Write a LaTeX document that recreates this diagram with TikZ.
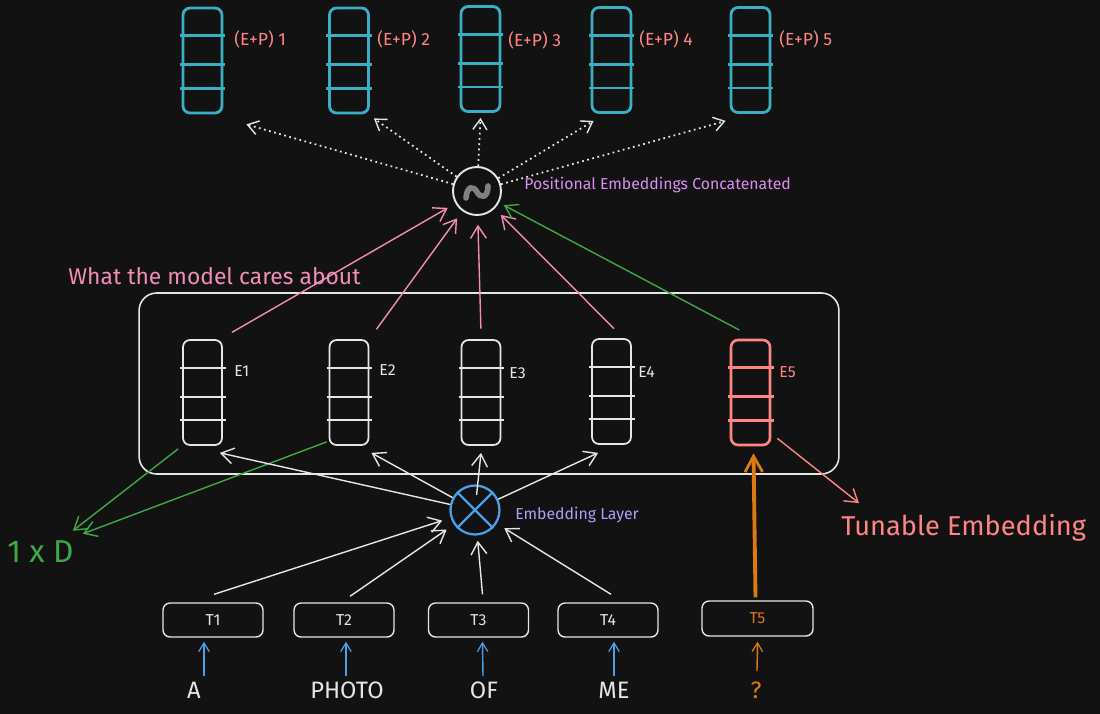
\documentclass[tikz,border=0pt]{standalone}
\usepackage{fontspec}
\setmainfont{Fira Sans}
\usetikzlibrary{arrows.meta,calc,positioning}
\definecolor{bgdark}{HTML}{121212}
\definecolor{vcyan}{HTML}{3AAFC4}
\definecolor{salmon}{HTML}{FF8585}
\definecolor{pinkish}{HTML}{F28DB6}
\definecolor{grn}{HTML}{3FA844}
\definecolor{violet}{HTML}{DA8EF0}
\definecolor{lavender}{HTML}{B49CF8}
\definecolor{skyblue}{HTML}{4A9FE6}
\definecolor{orng}{HTML}{DC7A12}
\definecolor{offwhite}{HTML}{E6E6E6}

\tikzset{
  barb/.tip={Straight Barb[length=7pt,width=9pt,line width=0.8pt]},
  pvec/.style={draw=vcyan, line width=1.6pt, rounded corners=4pt, minimum width=0.78cm, minimum height=2.1cm, inner sep=0pt},
  evec/.style={draw=offwhite, line width=1pt, rounded corners=4pt, minimum width=0.78cm, minimum height=2.1cm, inner sep=0pt},
  eplbl/.style={text=salmon, font=\fontsize{10}{12}\selectfont, anchor=west, inner sep=0pt},
  elbl/.style={text=offwhite, font=\fontsize{9}{11}\selectfont, anchor=west, inner sep=0pt},
  tok/.style={draw=offwhite, line width=0.8pt, rounded corners=4pt, minimum width=2cm, minimum height=0.68cm, inner sep=0pt, text=offwhite, font=\fontsize{9}{11}\selectfont},
  word/.style={text=offwhite, font=\fontsize{13.5}{15}\selectfont, inner sep=0pt},
  dotarr/.style={offwhite, dotted, line width=1pt, -{Straight Barb[length=6pt,width=8pt,line width=0.8pt]}},
  whtarr/.style={offwhite, line width=0.8pt, -barb},
  pinkarr/.style={pinkish, line width=0.8pt, -barb},
  grnarr/.style={grn, line width=0.8pt, -barb},
  bluearr/.style={skyblue, line width=0.8pt, -{Straight Barb[length=5pt,width=6pt,line width=0.7pt]}}
}

\begin{document}
\begin{tikzpicture}[x=0.02cm,y=-0.02cm]
\fill[bgdark] (0,0) rectangle (1100,714);
\useasboundingbox (0,0) rectangle (1100,714);

% positional vectors
\node[pvec] (p1) at (202.5,60.5) {};
\node[pvec] (p2) at (349,60.5) {};
\node[pvec] (p3) at (480.5,59) {};
\node[pvec] (p4) at (611.5,60) {};
\node[pvec] (p5) at (750.5,60) {};
\foreach \n in {p1,p2,p3,p4,p5}
  \foreach \f in {0.27,0.54,0.76}
    \draw[vcyan, line width=1.6pt] ($(\n.north west)!\f!(\n.south west)+(-2,0)$) -- ($(\n.north east)!\f!(\n.south east)+(2,0)$);
\node[eplbl] (lp1) at (234,39) {(E+P) 1};
\node[eplbl] (lp2) at (377,39) {(E+P) 2};
\node[eplbl] (lp3) at (508,40) {(E+P) 3};
\node[eplbl] (lp4) at (639,39) {(E+P) 4};
\node[eplbl] (lp5) at (779,39) {(E+P) 5};

% concatenation
\node[draw=offwhite, circle, line width=1.1pt, minimum size=0.96cm, inner sep=0pt] (cc) at (477,191) {};
\draw[gray, line width=3.2pt, line cap=round] ($(cc)+(-11,7)$) .. controls ($(cc)+(-10,-6)$) and ($(cc)+(-3,-5)$) .. ($(cc)+(0,1)$) .. controls ($(cc)+(3,7)$) and ($(cc)+(11,8)$) .. ($(cc)+(11,-5)$);
\node[text=violet, font=\fontsize{9}{11}\selectfont, anchor=west, inner sep=0pt] (poslbl) at (524,185) {Positional Embeddings Concatenated};
\draw[dotarr] (cc) -- ($(p1.south east)+(23,10)$);
\draw[dotarr] (cc) -- ($(p2.south east)+(4,4)$);
\draw[dotarr] (cc) -- ($(p3.south)+(0,5)$);
\draw[dotarr] (cc) -- ($(p4.south west)+(3,7)$);
\draw[dotarr] (cc) -- ($(p5.south west)+(-4,7)$);

% embeddings
\node[text=pinkish, font=\fontsize{13}{15}\selectfont, anchor=west, inner sep=0pt] (cares) at (68,276) {What the model cares about};
\node[draw=offwhite, line width=0.9pt, rounded corners=10pt, minimum width=14cm, minimum height=3.62cm, inner sep=0pt] (frame) at (489,383.5) {};
\node[evec] (e1) at (202.5,392.5) {};
\node[evec] (e2) at (349,392.5) {};
\node[evec] (e3) at (481,392.5) {};
\node[evec] (e4) at (611.5,391.5) {};
\node[evec, draw=salmon, line width=1.5pt] (e5) at (750.5,392.5) {};
\foreach \n in {e1,e2,e3,e4}
  \foreach \f in {0.27,0.54,0.76}
    \draw[offwhite, line width=1pt] ($(\n.north west)!\f!(\n.south west)+(-2,0)$) -- ($(\n.north east)!\f!(\n.south east)+(3,0)$);
\foreach \f in {0.27,0.54,0.76}
  \draw[salmon, line width=1.5pt] ($(e5.north west)!\f!(e5.south west)+(-2,0)$) -- ($(e5.north east)!\f!(e5.south east)+(3,0)$);
\node[elbl] (le1) at (234,371) {E1};
\node[elbl] (le2) at (379,370) {E2};
\node[elbl] (le3) at (509,373) {E3};
\node[elbl] (le4) at (638,372) {E4};
\node[elbl, text=salmon] (le5) at (779,372) {E5};

\draw[pinkarr, shorten <=2pt, shorten >=5pt] ($(e1.north east)+(6,-5)$) -- (cc);
\draw[pinkarr, shorten <=2pt, shorten >=5pt] ($(e2.north east)+(5,-7)$) -- (cc);
\draw[pinkarr, shorten <=2pt, shorten >=5pt] ($(e3.north)+(0,-7)$) -- (cc);
\draw[pinkarr, shorten <=2pt, shorten >=5pt] ($(e4.north)+(5,-7)$) -- (cc);
\draw[grnarr, shorten <=2pt, shorten >=3pt] ($(e5.north)+(-8,-7)$) -- (cc);

% 1 x D
\node[text=grn, font=\fontsize{18}{20}\selectfont, anchor=west, inner sep=0pt] (onexd) at (7,552) {1 x D};
\draw[grnarr] ($(e1.south west)+(-4,3)$) -- ($(onexd.north east)+(-1,-10)$);
\draw[grnarr] ($(e2.south west)+(-2,-4)$) -- ($(onexd.north east)+(9,-7)$);

% embedding layer
\node[draw=skyblue, circle, line width=1.3pt, minimum size=0.98cm, inner sep=0pt] (emb) at (475,510) {};
\draw[skyblue, line width=1.3pt] (emb.north west) -- (emb.south east);
\draw[skyblue, line width=1.3pt] (emb.north east) -- (emb.south west);
\node[text=lavender, font=\fontsize{9}{11}\selectfont, anchor=west, inner sep=0pt] (emblbl) at (515,515) {Embedding Layer};
\draw[whtarr] (emb) -- ($(e1.south east)+(-3,7)$);
\draw[whtarr] (emb) -- ($(e2.south east)+(2,7)$);
\draw[whtarr, shorten <=-6pt] (emb) -- ($(e3.south)+(0,7)$);
\draw[whtarr] (emb) -- ($(e4.south west)+(7,8)$);

% tokens
\node[tok] (t1) at (213,620) {T1};
\node[tok] (t2) at (344,620) {T2};
\node[tok] (t3) at (478.5,620) {T3};
\node[tok] (t4) at (608,620) {T4};
\node[tok, minimum width=2.22cm, minimum height=0.7cm, text=orng] (t5) at (757.5,618.5) {T5};
\draw[whtarr, shorten >=5pt] ($(t1.north)+(1,-8)$) -- (emb);
\draw[whtarr, shorten >=5pt] ($(t2.north)+(6,-6)$) -- (emb);
\draw[whtarr, shorten >=3pt] ($(t3.north)+(4,-8)$) -- (emb);
\draw[whtarr, shorten >=5pt] ($(t4.north)+(3,-8)$) -- (emb);
\draw[orng, line width=2.2pt, -{Straight Barb[length=9pt,width=10pt,line width=1.6pt]}] ($(t5.north)+(-2,-3)$) -- ($(e5.south)+(3,7)$);

% tunable
\node[text=salmon, font=\fontsize{15.5}{18}\selectfont, anchor=west, inner sep=0pt] (tun) at (841,528) {Tunable Embedding};
\draw[salmon, line width=0.8pt, -barb] ($(e5.south east)+(6,-8)$) -- ($(tun.north west)+(18,-11)$);

% words
\node[word] (w1) at (194,690) {A};
\node[word] (w2) at (347,690) {PHOTO};
\node[word] (w3) at (484,690) {OF};
\node[word] (w4) at (614,690) {ME};
\node[word, text=orng] (w5) at (756,690) {?};
\draw[bluearr] ($(w1.north)+(10,-5)$) -- ($(t1.south)+(-9,4)$);
\draw[bluearr] ($(w2.north)+(-1,-5)$) -- ($(t2.south)+(2,4)$);
\draw[bluearr] ($(w3.north)+(-1,-5)$) -- ($(t3.south)+(4,4)$);
\draw[bluearr] ($(w4.north)+(0,-5)$) -- ($(t4.south)+(6,4)$);
\draw[orng, line width=0.8pt, -{Straight Barb[length=5pt,width=6pt,line width=0.7pt]}] ($(w5.north)+(1,-10)$) -- ($(t5.south)+(0,5)$);
\end{tikzpicture}
\end{document}
